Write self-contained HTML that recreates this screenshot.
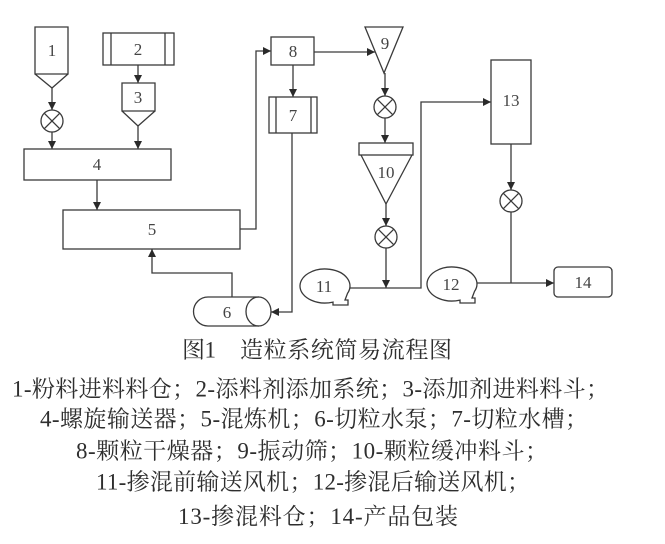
<!DOCTYPE html>
<html>
<head>
<meta charset="utf-8">
<style>
  html, body { margin:0; padding:0; background:#fff; }
  svg { display:block; }
  .ln { stroke:#3a3a3a; stroke-width:1.3; fill:none; }
  .lab { font-family:"Liberation Serif","Noto Serif CJK SC",serif; font-size:17px; fill:#444; text-anchor:middle; }
  .cap { font-family:"Liberation Serif","Noto Serif CJK SC",serif; font-size:23px; fill:#2e2e2e; }
</style>
</head>
<body>
<svg width="665" height="544" viewBox="0 0 665 544" xmlns="http://www.w3.org/2000/svg">
  <defs>
    <marker id="ar" markerUnits="userSpaceOnUse" markerWidth="8" markerHeight="8" refX="8" refY="4" orient="auto">
      <path d="M0,0 L8,4 L0,8 Z" fill="#2a2a2a"/>
    </marker>
  </defs>

  <!-- 1 -->
  <path class="ln" d="M35,74 L35,27 L68,27 L68,74 Z M35,74 L52,88 L68,74"/>
  <text class="lab" x="52" y="56">1</text>
  <line class="ln" x1="52" y1="88" x2="52" y2="110" marker-end="url(#ar)"/>
  <circle class="ln" cx="52" cy="121" r="11"/>
  <path class="ln" d="M44.2,113.2 L59.8,128.8 M59.8,113.2 L44.2,128.8"/>
  <line class="ln" x1="52" y1="132" x2="52" y2="149" marker-end="url(#ar)"/>

  <!-- 2 -->
  <rect class="ln" x="103" y="33" width="71" height="32"/>
  <path class="ln" d="M111,33 L111,65 M165,33 L165,65"/>
  <text class="lab" x="138" y="55">2</text>
  <line class="ln" x1="138" y1="65" x2="138" y2="83" marker-end="url(#ar)"/>

  <!-- 3 -->
  <path class="ln" d="M122,111 L122,83 L155,83 L155,111 Z M122,111 L138,126 L155,111"/>
  <text class="lab" x="138" y="103">3</text>
  <line class="ln" x1="138" y1="126" x2="138" y2="149" marker-end="url(#ar)"/>

  <!-- 4 -->
  <rect class="ln" x="24" y="149" width="147" height="31"/>
  <text class="lab" x="97" y="170">4</text>
  <line class="ln" x1="97" y1="180" x2="97" y2="210" marker-end="url(#ar)"/>

  <!-- 5 -->
  <rect class="ln" x="63" y="210" width="177" height="39"/>
  <text class="lab" x="152" y="235">5</text>
  <polyline class="ln" points="240,229 256,229 256,51 271,51" marker-end="url(#ar)"/>

  <!-- 8 -->
  <rect class="ln" x="271" y="37" width="43" height="28"/>
  <text class="lab" x="293" y="57">8</text>
  <line class="ln" x1="293" y1="65" x2="293" y2="97" marker-end="url(#ar)"/>

  <!-- 7 -->
  <rect class="ln" x="269" y="97" width="48" height="36"/>
  <path class="ln" d="M276,97 L276,133 M311,97 L311,133"/>
  <text class="lab" x="293" y="121">7</text>
  <polyline class="ln" points="292,133 292,312 271,312" marker-end="url(#ar)"/>

  <!-- 6 pump -->
  <path class="ln" d="M208,297 L259,297 M208,326 L259,326 M208,297 A14.5,14.5 0 0 0 208,326"/>
  <ellipse class="ln" cx="258.5" cy="311.5" rx="12.5" ry="14.5"/>
  <text class="lab" x="227" y="318">6</text>
  <polyline class="ln" points="232,297 232,273 152,273 152,249" marker-end="url(#ar)"/>

  <!-- 9 -->
  <line class="ln" x1="314" y1="52" x2="375" y2="52" marker-end="url(#ar)"/>
  <path class="ln" d="M365,27 L403,27 L384,73 Z"/>
  <text class="lab" x="385" y="49">9</text>
  <line class="ln" x1="385" y1="73" x2="385" y2="96" marker-end="url(#ar)"/>
  <circle class="ln" cx="385" cy="107" r="11"/>
  <path class="ln" d="M377.2,99.2 L392.8,114.8 M392.8,99.2 L377.2,114.8"/>
  <line class="ln" x1="385" y1="118" x2="385" y2="143" marker-end="url(#ar)"/>

  <!-- 10 -->
  <rect class="ln" x="359" y="143" width="54" height="12"/>
  <path class="ln" d="M361,155 L386,204 L412,155"/>
  <text class="lab" x="386" y="178">10</text>
  <line class="ln" x1="386" y1="204" x2="386" y2="226" marker-end="url(#ar)"/>
  <circle class="ln" cx="386" cy="237" r="11"/>
  <path class="ln" d="M378.2,229.2 L393.8,244.8 M393.8,229.2 L378.2,244.8"/>
  <line class="ln" x1="386" y1="248" x2="386" y2="288" marker-end="url(#ar)"/>

  <!-- 11 fan -->
  <path class="ln" d="M333,302.1 A25,17 0 1 1 347.5,293.4 L345,300 L348,300 L348,305 L333,305 Z"/>
  <text class="lab" x="324" y="292">11</text>
  <polyline class="ln" points="350,288 421,288 421,102 491,102" marker-end="url(#ar)"/>

  <!-- 13 -->
  <rect class="ln" x="491" y="60" width="40" height="84"/>
  <text class="lab" x="511" y="106">13</text>
  <line class="ln" x1="511" y1="144" x2="511" y2="190" marker-end="url(#ar)"/>
  <circle class="ln" cx="511" cy="201" r="11"/>
  <path class="ln" d="M503.2,193.2 L518.8,208.8 M518.8,193.2 L503.2,208.8"/>
  <line class="ln" x1="511" y1="212" x2="511" y2="283"/>

  <!-- 12 fan -->
  <path class="ln" d="M460,300.1 A25,17 0 1 1 474.5,291.4 L472,298 L475,298 L475,303 L460,303 Z"/>
  <text class="lab" x="451" y="290">12</text>
  <line class="ln" x1="477" y1="283" x2="554" y2="283" marker-end="url(#ar)"/>

  <!-- 14 -->
  <rect class="ln" x="554" y="267" width="58" height="30" rx="4" ry="4"/>
  <text class="lab" x="583" y="288">14</text>

  <!-- caption -->
  <text class="cap" x="182" y="357.5" textLength="34">图1</text>
  <text class="cap" x="240" y="357.5" textLength="212">造粒系统简易流程图</text>
  <text class="cap" x="12" y="396.5" textLength="597">1-粉料进料料仓；2-添料剂添加系统；3-添加剂进料料斗；</text>
  <text class="cap" x="40" y="426.5" textLength="548">4-螺旋输送器；5-混炼机；6-切粒水泵；7-切粒水槽；</text>
  <text class="cap" x="76" y="458.5" textLength="472">8-颗粒干燥器；9-振动筛；10-颗粒缓冲料斗；</text>
  <text class="cap" x="96" y="489.5" textLength="434">11-掺混前输送风机；12-掺混后输送风机；</text>
  <text class="cap" x="178" y="524" textLength="280">13-掺混料仓；14-产品包装</text>
</svg>
</body>
</html>
